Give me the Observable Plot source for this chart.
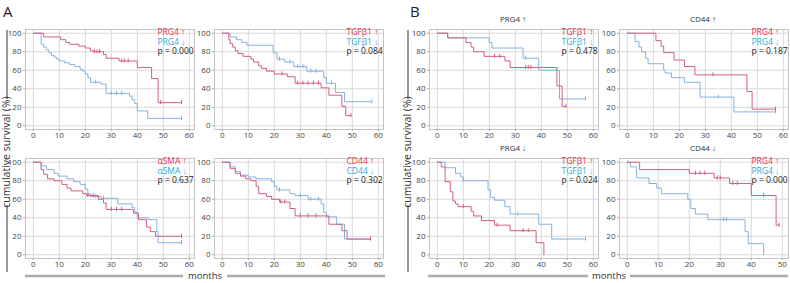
<!DOCTYPE html>
<html><head><meta charset="utf-8">
<script src="https://cdn.jsdelivr.net/npm/d3@7"></script>
<script src="https://cdn.jsdelivr.net/npm/@observablehq/plot@0.6"></script>
<style>
body{margin:0;background:#fff;}
#root{position:relative;width:790px;height:283px;overflow:hidden;font-family:"Open Sans",sans-serif;}
</style></head><body><div id="root"></div>
<script>
// ---- tick labels ----
const xTicks60 = [0,10,20,30,40,50,60];
const xTicks50 = [0,10,20,30,40,50];
const yTicks = [0,20,40,60,80,100];

// ---- Panel A, top-left: PRG4 ----
const aPrg4Up = [[0,100],[4,96],[10.5,93],[12.5,90],[14,88],[17.5,86],[20,84],[22,81],[23,80],[27,77],[28,73],[33,70],[40,63],[45.5,51],[48,25],[57,25]];
const aPrg4Down = [[0,100],[3,88],[4,85],[5,82],[6,79],[7,76],[8,74],[9,72],[10,70],[12,68],[14,66],[16,64],[18,61],[19,59],[20,56],[21,52],[22,47],[26,45],[28,35],[36,35],[37,32],[38,28],[39,24],[40,16],[44,8],[57,8]];
const aPrg4UpCens = [23.5,24.5,25.5,34,35,36.5,49,57];
const aPrg4DownCens = [24,30,32,34,57];

// ---- Panel A, top-right: TGFβ1 ----
const aTgfUp = [[0,100],[2.5,93],[3,89],[4,85],[5,81],[6,78],[8,75],[11,72],[12,69],[14,65],[15,62],[17,59],[20,56],[25,53],[28,46],[38,41],[41,33],[46,21],[47.5,11],[49.5,11]];
const aTgfDown = [[0,100],[3,96],[5.5,93],[7.5,90],[9.5,87],[19.5,79],[21,72],[24,69],[27.5,64],[32.5,59],[39,52],[40,46],[43.5,36],[47,26],[57.5,26]];
const aTgfUpCens = [23,29,31,33,35,37,49.5];
const aTgfDownCens = [22,26,29,31,34,36,42,57.5];

// ---- Panel A, bottom-left: αSMA ----
const aSmaUp = [[0,100],[3,92],[4,87],[5.5,82],[8,80],[11,76],[13,72],[14.5,69],[19,66],[20.5,64],[25,60],[27,56],[28,49],[38.5,45],[40.5,38],[43.5,30],[45,25],[47,20],[57,20]];
const aSmaDown = [[0,100],[3,96],[5,92],[8,88],[9.5,85],[13,82],[15.5,79],[18,76],[20,71],[21,66],[22,63],[26,61],[32.5,55],[38,51],[39,46],[40,40],[44,38],[47.5,25],[48,13],[57,13]];
const aSmaUpCens = [21,23,30,32,34,57];
const aSmaDownCens = [24,27,57];

// ---- Panel A, bottom-right: CD44 ----
const aCd44Up = [[0,100],[3,93],[5,88],[7,85],[9,82],[11,80],[13,74],[14,66],[17,63],[19,60],[22,57],[26,50],[28,42],[41,33],[46,26],[48,17],[57,17]];
const aCd44Down = [[0,100],[3,95],[5,90],[7,86],[10,84],[13,82],[19,79],[20,74],[21,70],[26,66],[28,64],[33,60],[38,55],[39,46],[40,41],[44,33],[47,17],[57,17]];
const aCd44UpCens = [22.5,24,30,33,36,57];
const aCd44DownCens = [22,30,34,37];

// ---- Panel B, top-left: PRG4 ↑ subgroup, TGFβ1 ----
const bPrgUpTgfUp = [[0,100],[4,95],[11,90],[13,85],[14,80],[18,75],[26,70],[28,63],[46,43],[48,21],[49.5,21]];
const bPrgUpTgfDown = [[0,100],[4,95],[20,90],[21,84],[33,73],[39,60],[47,29],[57,29]];
const bPrgUpTgfUpCens = [22,24,34,35,36,49.5];
const bPrgUpTgfDownCens = [34,57];

// ---- Panel B, top-right: CD44 ↑ subgroup, PRG4 ----
const bCdUpPrgUp = [[0,100],[11,92],[13,86],[14,79],[18,71],[22,64],[26,55],[46,37],[48,18],[57,18]];
const bCdUpPrgDown = [[0,100],[3,91],[4.5,85],[5.5,80],[7,73],[8,67],[14,60],[14.5,57],[17,52],[22,47],[28,31],[41,15],[57,15]];
const bCdUpPrgUpCens = [33,57];
const bCdUpPrgDownCens = [35,57];

// ---- Panel B, bottom-left: PRG4 ↓ subgroup, TGFβ1 ----
const bPrgDownTgfUp = [[0,100],[1.5,95],[3,79],[5,68],[6,58],[7,55],[8,52],[13,47],[14,42],[17,37],[22,32],[28,26],[38,13],[41,0]];
const bPrgDownTgfDown = [[0,100],[3,94],[7,88],[9,84],[10,80],[19.5,70],[20.5,62],[22,59],[26,52],[28,44],[39,33],[44,17],[57,17]];
const bPrgDownTgfUpCens = [10,23,33,35];
const bPrgDownTgfDownCens = [10,31,57];

// ---- Panel B, bottom-right: CD44 ↓ subgroup, PRG4 ----
const bCdDownPrgUp = [[0,100],[4,92],[20,88],[28,83],[33,77],[40,64],[48,32],[49,32]];
const bCdDownPrgDown = [[0,100],[1,95],[3,83],[7,77],[9.5,72],[11,66],[19.5,60],[20.5,50],[22,44],[26,38],[38,25],[39,12],[44,0]];
const bCdDownPrgUpCens = [22,23.5,25,29,30,34,35.5,44,49];
const bCdDownPrgDownCens = [31,32];

// ---- colours ----
const RED_LINE = "#d2607d", BLUE_LINE = "#86b2de";
const RED_TXT = "#e8364f", BLUE_TXT = "#2ea8da";
const FONT = "'Open Sans', sans-serif";

const root = document.getElementById("root");

function toRows(curve){ return curve.map(([t,s]) => ({t, s})); }
function censRows(curve, times){
  return times.map(t => {
    let s = curve[0][1];
    for (const [ct, cs] of curve) if (ct <= t) s = cs;
    return {t, s};
  });
}

function panel(o){
  const ML=22, MR=3, MT=4, MB=16, FW=169, FH=100;
  const red = toRows(o.red), blue = toRows(o.blue);
  const rc = censRows(o.red, o.redC), bc = censRows(o.blue, o.blueC);
  const txt = (label, fill, dy) => Plot.text([label], {
    text: d => d, frameAnchor: "top-left", dx: 132, dy, textAnchor: "start", lineAnchor: "top",
    fill, fontSize: 8.5, fontFamily: FONT
  });
  const chart = Plot.plot({
    width: FW+ML+MR, height: FH+MT+MB,
    marginLeft: ML, marginRight: MR, marginTop: MT, marginBottom: MB,
    style: {fontFamily: FONT, fontSize: "8px", color: "#444", background: "transparent", overflow: "visible"},
    x: {domain: o.xDomain},
    y: {domain: [-4,104]},
    marks: [
      Plot.gridX(o.xTicks, {stroke: "#d9d9d9", strokeOpacity: 1}),
      Plot.gridY(yTicks, {stroke: "#d9d9d9", strokeOpacity: 1}),
      Plot.frame({stroke: "#c4c4c4"}),
      Plot.axisX(o.xTicks, {tickSize: 2, tickPadding: 1, label: null, stroke: "#aaa", fontSize: 8}),
      Plot.axisY(yTicks, {tickSize: 2, tickPadding: 2, label: null, stroke: "#aaa", fontSize: 8}),
      Plot.line(blue, {x: "t", y: "s", curve: "step-after", stroke: BLUE_LINE, strokeWidth: 1}),
      Plot.line(red, {x: "t", y: "s", curve: "step-after", stroke: RED_LINE, strokeWidth: 1}),
      Plot.ruleX(bc, {x: "t", y1: d => d.s - 2.2, y2: d => d.s + 2.2, stroke: BLUE_LINE}),
      Plot.ruleX(rc, {x: "t", y1: d => d.s - 2.2, y2: d => d.s + 2.2, stroke: RED_LINE}),
      txt(o.labels[0], RED_TXT, -0.5),
      txt(o.labels[1], BLUE_TXT, 9),
      txt(o.labels[2], "#222", 18.5)
    ]
  });
  chart.style.position = "absolute";
  chart.style.left = (o.left - ML) + "px";
  chart.style.top = (o.top - MT) + "px";
  root.append(chart);
}

const D60 = [-3, 62], D50 = [-2.5, 52];
const TOP1 = 29, TOP2 = 158;
panel({left:25, top:TOP1, xDomain:D60, xTicks:xTicks60, red:aPrg4Up, blue:aPrg4Down, redC:aPrg4UpCens, blueC:aPrg4DownCens, labels:["PRG4 ↑","PRG4 ↓","p = 0.000"]});
panel({left:214, top:TOP1, xDomain:D60, xTicks:xTicks60, red:aTgfUp, blue:aTgfDown, redC:aTgfUpCens, blueC:aTgfDownCens, labels:["TGFβ1 ↑","TGFβ1 ↓","p = 0.084"]});
panel({left:25, top:TOP2, xDomain:D60, xTicks:xTicks60, red:aSmaUp, blue:aSmaDown, redC:aSmaUpCens, blueC:aSmaDownCens, labels:["αSMA ↑","αSMA ↓","p = 0.637"]});
panel({left:214, top:TOP2, xDomain:D60, xTicks:xTicks60, red:aCd44Up, blue:aCd44Down, redC:aCd44UpCens, blueC:aCd44DownCens, labels:["CD44 ↑","CD44 ↓","p = 0.302"]});
panel({left:429, top:TOP1, xDomain:D60, xTicks:xTicks60, red:bPrgUpTgfUp, blue:bPrgUpTgfDown, redC:bPrgUpTgfUpCens, blueC:bPrgUpTgfDownCens, labels:["TGFβ1 ↑","TGFβ1 ↓","p = 0.478"]});
panel({left:619, top:TOP1, xDomain:D60, xTicks:xTicks60, red:bCdUpPrgUp, blue:bCdUpPrgDown, redC:bCdUpPrgUpCens, blueC:bCdUpPrgDownCens, labels:["PRG4 ↑","PRG4 ↓","p = 0.187"]});
panel({left:429, top:TOP2, xDomain:D60, xTicks:xTicks60, red:bPrgDownTgfUp, blue:bPrgDownTgfDown, redC:bPrgDownTgfUpCens, blueC:bPrgDownTgfDownCens, labels:["TGFβ1 ↑","TGFβ1 ↓","p = 0.024"]});
panel({left:619, top:TOP2, xDomain:D50, xTicks:xTicks50, red:bCdDownPrgUp, blue:bCdDownPrgDown, redC:bCdDownPrgUpCens, blueC:bCdDownPrgDownCens, labels:["PRG4 ↑","PRG4 ↓","p = 0.000"]});

// ---- figure decorations (panel letters, shared axis titles) ----
const svg = d3.select(root).insert("svg", ":first-child")
  .attr("width", 790).attr("height", 283)
  .style("position", "absolute").style("left", 0).style("top", 0)
  .style("font-family", FONT);
svg.append("text").attr("x", 3).attr("y", 17).attr("font-size", 15).attr("fill", "#222").text("A");
svg.append("text").attr("x", 410).attr("y", 17).attr("font-size", 15).attr("fill", "#222").text("B");
[["PRG4 ↑", 513, 20], ["CD44 ↑", 703, 20], ["PRG4 ↓", 513, 149], ["CD44 ↓", 703, 149]].forEach(([t,x,y]) =>
  svg.append("text").attr("x", x).attr("y", y).attr("text-anchor", "middle").attr("dominant-baseline", "middle")
    .attr("font-size", 8).attr("fill", "#333").text(t));
[7, 408].forEach(x => {
  svg.append("text").attr("transform", `translate(${x},152) rotate(-90)`).attr("text-anchor", "middle")
    .attr("dominant-baseline", "middle").attr("font-size", 10.5).attr("fill", "#333").text("cumulative survival (%)");
  svg.append("line").attr("x1", x).attr("x2", x).attr("y1", 30).attr("y2", 99).attr("stroke", "#333");
  svg.append("line").attr("x1", x).attr("x2", x).attr("y1", 205).attr("y2", 272).attr("stroke", "#333");
});
[[205, 25, 183, 227, 385], [609, 428, 588, 630, 788]].forEach(([cx, a1, a2, b1, b2]) => {
  svg.append("text").attr("x", cx).attr("y", 276).attr("text-anchor", "middle").attr("dominant-baseline", "middle")
    .attr("font-size", 9.5).attr("fill", "#333").text("months");
  svg.append("line").attr("x1", a1).attr("x2", a2).attr("y1", 276).attr("y2", 276).attr("stroke", "#aaa").attr("stroke-width", 2.5);
  svg.append("line").attr("x1", b1).attr("x2", b2).attr("y1", 276).attr("y2", 276).attr("stroke", "#aaa").attr("stroke-width", 2.5);
});
</script>
</body></html>
